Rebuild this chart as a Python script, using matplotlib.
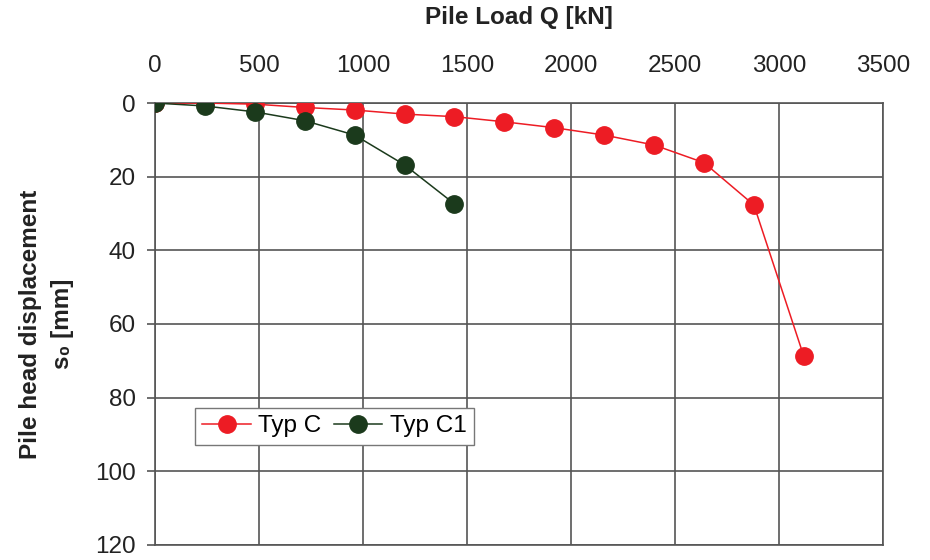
import matplotlib
matplotlib.use('Agg')
import matplotlib.pyplot as plt

plt.rcParams['font.family'] = ['Liberation Sans', 'DejaVu Sans']

# pile load steps [kN]
load_c = [0, 240, 480, 720, 960, 1200, 1440, 1680, 1920, 2160, 2400, 2640, 2880, 3120]
disp_c = [0, 0, 0.3, 1.2, 1.9, 3.0, 3.7, 5.1, 6.7, 8.7, 11.4, 16.2, 27.7, 68.8]

load_c1 = [0, 240, 480, 720, 960, 1200, 1440]
disp_c1 = [0, 0.8, 2.4, 4.8, 8.7, 16.8, 27.4]

x_ticks = [0, 500, 1000, 1500, 2000, 2500, 3000, 3500]
y_ticks = [0, 20, 40, 60, 80, 100, 120]

red = '#ed1c24'
green = '#1b3a1c'

fig = plt.figure(figsize=(9.3, 5.6), dpi=100)
ax = fig.add_axes([0.1667, 0.027, 0.7826, 0.789])

ax.plot(load_c, disp_c, '-o', color=red, lw=1.1, markersize=12.5, label='Typ C', zorder=3)
ax.plot(load_c1, disp_c1, '-o', color=green, lw=1.1, markersize=12.5, label='Typ C1', zorder=4)

ax.set_xlim(0, 3500)
ax.set_ylim(120, 0)
ax.set_xticks(x_ticks)
ax.set_yticks(y_ticks)
ax.xaxis.tick_top()
ax.xaxis.set_label_position('top')
ax.tick_params(axis='x', length=0, pad=19, labelsize=17.5)
ax.tick_params(axis='y', length=6, width=1.2, color='#555555', pad=8, labelsize=17.5)
for lbl in ax.get_xticklabels() + ax.get_yticklabels():
    lbl.set_color('#222222')

ax.grid(True, color='#555555', lw=1.2)
ax.set_axisbelow(True)
for s in ax.spines.values():
    s.set_color('#555555')
    s.set_linewidth(1.2)

ax.set_xlabel('Pile Load Q [kN]', fontsize=17.5, fontweight='bold', labelpad=22, color='#222222')
ax.set_ylabel('Pile head displacement\ns₀ [mm]', fontsize=17.5, fontweight='bold', labelpad=15,
              color='#222222', linespacing=1.5)

leg = ax.legend(ncol=2, loc='upper left', bbox_to_anchor=(0.055, 0.31), fontsize=17.5,
                frameon=True, fancybox=False, handlelength=2.0, handletextpad=0.3,
                columnspacing=0.5, borderpad=0.3, borderaxespad=0)
leg.get_frame().set_edgecolor('#777777')
leg.get_frame().set_linewidth(1.0)
leg.get_frame().set_alpha(1)

fig.savefig('out.png', dpi=100)
